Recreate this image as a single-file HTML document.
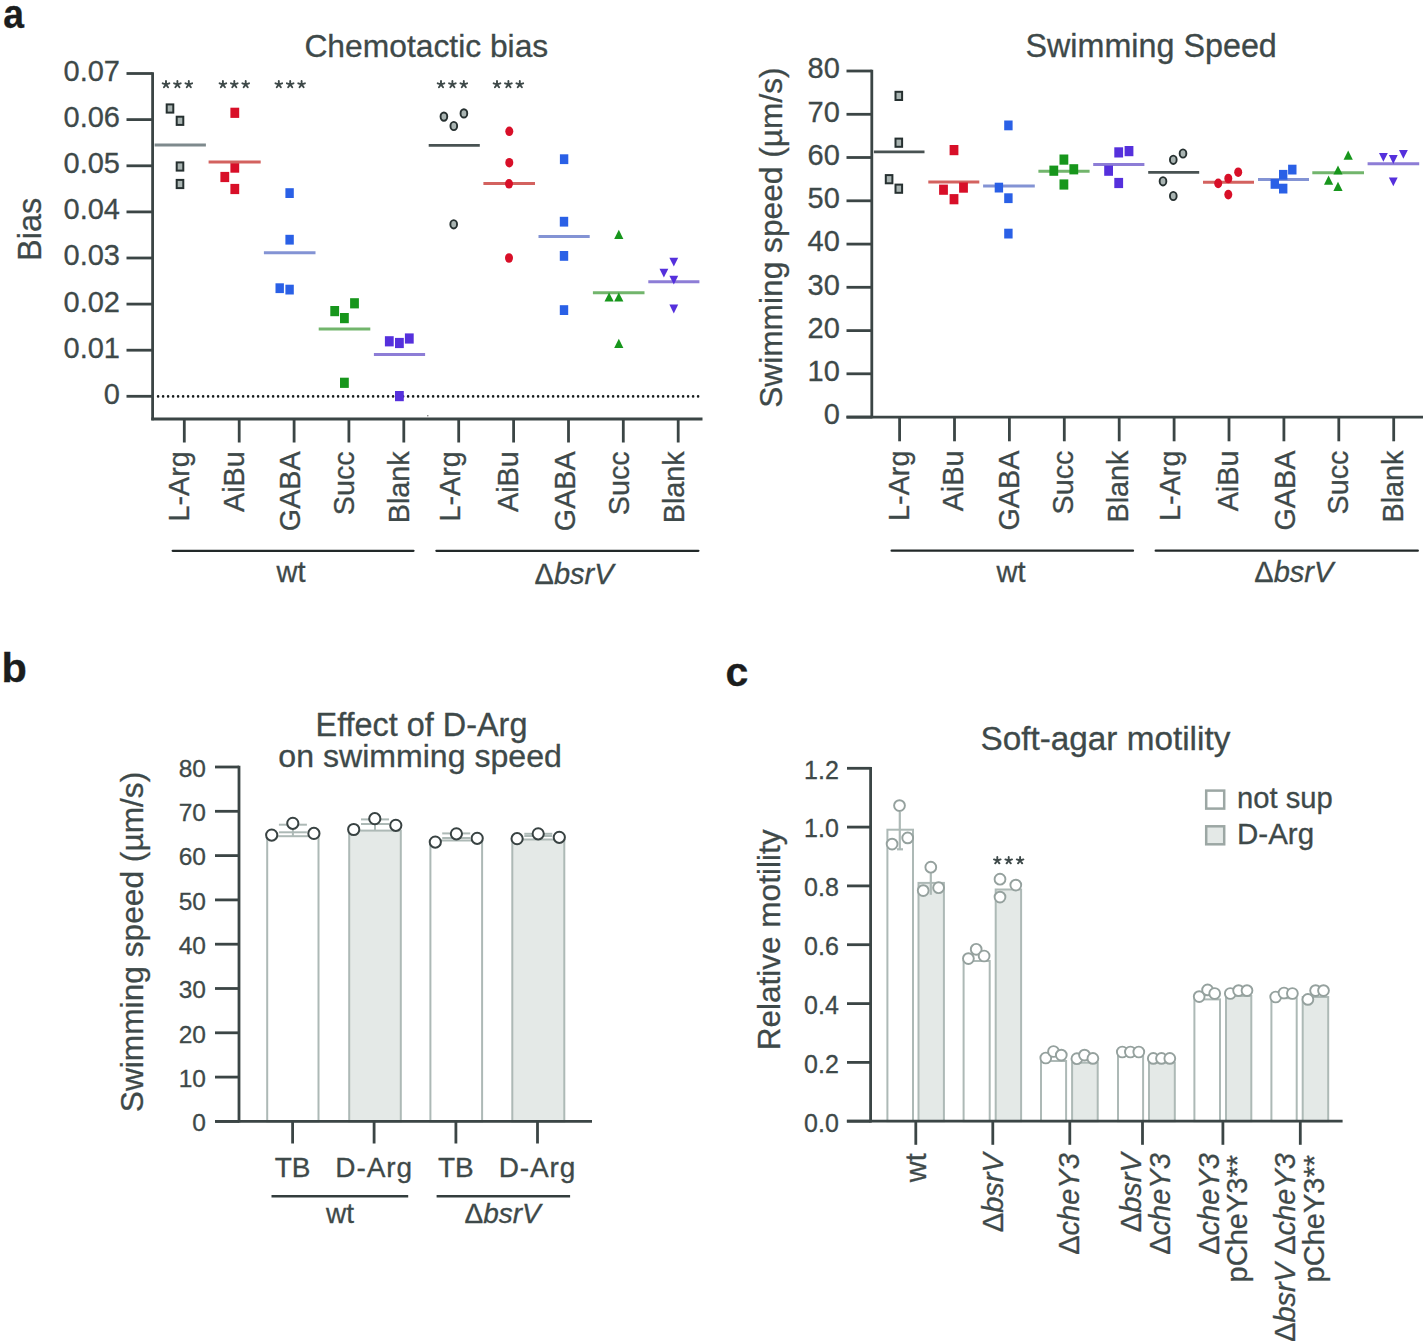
<!DOCTYPE html>
<html><head><meta charset="utf-8"><style>
html,body{margin:0;padding:0;background:#fff;}
svg{display:block;}
text{font-family:"Liberation Sans",sans-serif;stroke:currentColor;stroke-width:0.3px;}
</style></head><body>
<svg width="1423" height="1341" viewBox="0 0 1423 1341">
<rect width="1423" height="1341" fill="#ffffff"/>
<text transform="translate(3.2,28) scale(0.91,1)" font-size="41" font-weight="bold" fill="#1b1d1d" style="color:#1b1d1d">a</text>
<text x="304.4" y="57.0" font-size="31.8" text-anchor="start" fill="#3e4949" style="color:#3e4949" >Chemotactic bias</text>
<line x1="152.6" y1="72.3" x2="152.6" y2="420.3" stroke="#3b4545" stroke-width="2.8" />
<line x1="126.5" y1="396.3" x2="152.6" y2="396.3" stroke="#3b4545" stroke-width="2.8" />
<text x="120.0" y="403.7" font-size="29" text-anchor="end" fill="#3e4949" style="color:#3e4949" >0</text>
<line x1="126.5" y1="350.2" x2="152.6" y2="350.2" stroke="#3b4545" stroke-width="2.8" />
<text x="120.0" y="357.6" font-size="29" text-anchor="end" fill="#3e4949" style="color:#3e4949" >0.01</text>
<line x1="126.5" y1="304.1" x2="152.6" y2="304.1" stroke="#3b4545" stroke-width="2.8" />
<text x="120.0" y="311.5" font-size="29" text-anchor="end" fill="#3e4949" style="color:#3e4949" >0.02</text>
<line x1="126.5" y1="258.0" x2="152.6" y2="258.0" stroke="#3b4545" stroke-width="2.8" />
<text x="120.0" y="265.4" font-size="29" text-anchor="end" fill="#3e4949" style="color:#3e4949" >0.03</text>
<line x1="126.5" y1="211.9" x2="152.6" y2="211.9" stroke="#3b4545" stroke-width="2.8" />
<text x="120.0" y="219.3" font-size="29" text-anchor="end" fill="#3e4949" style="color:#3e4949" >0.04</text>
<line x1="126.5" y1="165.8" x2="152.6" y2="165.8" stroke="#3b4545" stroke-width="2.8" />
<text x="120.0" y="173.2" font-size="29" text-anchor="end" fill="#3e4949" style="color:#3e4949" >0.05</text>
<line x1="126.5" y1="119.6" x2="152.6" y2="119.6" stroke="#3b4545" stroke-width="2.8" />
<text x="120.0" y="127.0" font-size="29" text-anchor="end" fill="#3e4949" style="color:#3e4949" >0.06</text>
<line x1="126.5" y1="73.5" x2="152.6" y2="73.5" stroke="#3b4545" stroke-width="2.8" />
<text x="120.0" y="80.9" font-size="29" text-anchor="end" fill="#3e4949" style="color:#3e4949" >0.07</text>
<line x1="151.3" y1="419.0" x2="702.5" y2="419.0" stroke="#3b4545" stroke-width="2.8" />
<line x1="184.3" y1="419.0" x2="184.3" y2="442.5" stroke="#3b4545" stroke-width="2.8" />
<text transform="translate(189.1,451.3) rotate(-90) scale(0.975,1.03)" font-size="29.5" text-anchor="end" fill="#3e4949" style="color:#3e4949" >L-Arg</text>
<line x1="239.2" y1="419.0" x2="239.2" y2="442.5" stroke="#3b4545" stroke-width="2.8" />
<text transform="translate(244.0,451.3) rotate(-90) scale(0.975,1.03)" font-size="29.5" text-anchor="end" fill="#3e4949" style="color:#3e4949" >AiBu</text>
<line x1="294.1" y1="419.0" x2="294.1" y2="442.5" stroke="#3b4545" stroke-width="2.8" />
<text transform="translate(300.4,451.3) rotate(-90) scale(0.975,1.03)" font-size="29.5" text-anchor="end" fill="#3e4949" style="color:#3e4949" >GABA</text>
<line x1="348.9" y1="419.0" x2="348.9" y2="442.5" stroke="#3b4545" stroke-width="2.8" />
<text transform="translate(354.2,451.3) rotate(-90) scale(0.975,1.03)" font-size="29.5" text-anchor="end" fill="#3e4949" style="color:#3e4949" >Succ</text>
<line x1="403.8" y1="419.0" x2="403.8" y2="442.5" stroke="#3b4545" stroke-width="2.8" />
<text transform="translate(409.1,451.3) rotate(-90) scale(0.975,1.03)" font-size="29.5" text-anchor="end" fill="#3e4949" style="color:#3e4949" >Blank</text>
<line x1="458.7" y1="419.0" x2="458.7" y2="442.5" stroke="#3b4545" stroke-width="2.8" />
<text transform="translate(459.7,451.3) rotate(-90) scale(0.975,1.03)" font-size="29.5" text-anchor="end" fill="#3e4949" style="color:#3e4949" >L-Arg</text>
<line x1="513.6" y1="419.0" x2="513.6" y2="442.5" stroke="#3b4545" stroke-width="2.8" />
<text transform="translate(518.0,451.3) rotate(-90) scale(0.975,1.03)" font-size="29.5" text-anchor="end" fill="#3e4949" style="color:#3e4949" >AiBu</text>
<line x1="568.5" y1="419.0" x2="568.5" y2="442.5" stroke="#3b4545" stroke-width="2.8" />
<text transform="translate(575.1,451.3) rotate(-90) scale(0.975,1.03)" font-size="29.5" text-anchor="end" fill="#3e4949" style="color:#3e4949" >GABA</text>
<line x1="623.3" y1="419.0" x2="623.3" y2="442.5" stroke="#3b4545" stroke-width="2.8" />
<text transform="translate(628.6,451.3) rotate(-90) scale(0.975,1.03)" font-size="29.5" text-anchor="end" fill="#3e4949" style="color:#3e4949" >Succ</text>
<line x1="678.2" y1="419.0" x2="678.2" y2="442.5" stroke="#3b4545" stroke-width="2.8" />
<text transform="translate(683.5,451.3) rotate(-90) scale(0.975,1.03)" font-size="29.5" text-anchor="end" fill="#3e4949" style="color:#3e4949" >Blank</text>
<line x1="158.1" y1="396.4" x2="701" y2="396.4" stroke="#1a1f1f" stroke-width="2.6" stroke-linecap="round" stroke-dasharray="0 5"/>
<line x1="172.7" y1="550.8" x2="413.5" y2="550.8" stroke="#222929" stroke-width="2.3" stroke-linecap="round"/>
<line x1="436.4" y1="550.8" x2="698.4" y2="550.8" stroke="#222929" stroke-width="2.3" stroke-linecap="round"/>
<text x="291.0" y="582.4" font-size="29" text-anchor="middle" fill="#3e4949" style="color:#3e4949" >wt</text>
<text x="534.5" y="583.5" font-size="29" text-anchor="start" fill="#3e4949" style="color:#3e4949" >Δ<tspan font-style="italic">bsrV</tspan></text>
<text transform="translate(41.0,229.3) rotate(-90)" font-size="32.5" text-anchor="middle" fill="#3e4949" style="color:#3e4949" >Bias</text>
<path d="M166.00,84.40L166.00,80.90M166.00,84.40L169.33,83.32M166.00,84.40L162.67,83.32M166.00,84.40L163.94,87.23M166.00,84.40L168.06,87.23M177.40,84.40L177.40,80.90M177.40,84.40L180.73,83.32M177.40,84.40L174.07,83.32M177.40,84.40L175.34,87.23M177.40,84.40L179.46,87.23M188.80,84.40L188.80,80.90M188.80,84.40L192.13,83.32M188.80,84.40L185.47,83.32M188.80,84.40L186.74,87.23M188.80,84.40L190.86,87.23" stroke="#3e4949" stroke-width="1.9" stroke-linecap="round" fill="none"/>
<path d="M222.90,84.40L222.90,80.90M222.90,84.40L226.23,83.32M222.90,84.40L219.57,83.32M222.90,84.40L220.84,87.23M222.90,84.40L224.96,87.23M234.30,84.40L234.30,80.90M234.30,84.40L237.63,83.32M234.30,84.40L230.97,83.32M234.30,84.40L232.24,87.23M234.30,84.40L236.36,87.23M245.70,84.40L245.70,80.90M245.70,84.40L249.03,83.32M245.70,84.40L242.37,83.32M245.70,84.40L243.64,87.23M245.70,84.40L247.76,87.23" stroke="#3e4949" stroke-width="1.9" stroke-linecap="round" fill="none"/>
<path d="M278.80,84.40L278.80,80.90M278.80,84.40L282.13,83.32M278.80,84.40L275.47,83.32M278.80,84.40L276.74,87.23M278.80,84.40L280.86,87.23M290.20,84.40L290.20,80.90M290.20,84.40L293.53,83.32M290.20,84.40L286.87,83.32M290.20,84.40L288.14,87.23M290.20,84.40L292.26,87.23M301.60,84.40L301.60,80.90M301.60,84.40L304.93,83.32M301.60,84.40L298.27,83.32M301.60,84.40L299.54,87.23M301.60,84.40L303.66,87.23" stroke="#3e4949" stroke-width="1.9" stroke-linecap="round" fill="none"/>
<path d="M441.00,84.40L441.00,80.90M441.00,84.40L444.33,83.32M441.00,84.40L437.67,83.32M441.00,84.40L438.94,87.23M441.00,84.40L443.06,87.23M452.40,84.40L452.40,80.90M452.40,84.40L455.73,83.32M452.40,84.40L449.07,83.32M452.40,84.40L450.34,87.23M452.40,84.40L454.46,87.23M463.80,84.40L463.80,80.90M463.80,84.40L467.13,83.32M463.80,84.40L460.47,83.32M463.80,84.40L461.74,87.23M463.80,84.40L465.86,87.23" stroke="#3e4949" stroke-width="1.9" stroke-linecap="round" fill="none"/>
<path d="M497.00,84.40L497.00,80.90M497.00,84.40L500.33,83.32M497.00,84.40L493.67,83.32M497.00,84.40L494.94,87.23M497.00,84.40L499.06,87.23M508.40,84.40L508.40,80.90M508.40,84.40L511.73,83.32M508.40,84.40L505.07,83.32M508.40,84.40L506.34,87.23M508.40,84.40L510.46,87.23M519.80,84.40L519.80,80.90M519.80,84.40L523.13,83.32M519.80,84.40L516.47,83.32M519.80,84.40L517.74,87.23M519.80,84.40L521.86,87.23" stroke="#3e4949" stroke-width="1.9" stroke-linecap="round" fill="none"/>
<rect x="166.7" y="104.4" width="6.6" height="8.2" fill="#a9b4b2" stroke="#263030" stroke-width="2"/>
<rect x="176.7" y="116.7" width="6.6" height="8.2" fill="#a9b4b2" stroke="#263030" stroke-width="2"/>
<rect x="176.7" y="162.4" width="6.6" height="8.2" fill="#a9b4b2" stroke="#263030" stroke-width="2"/>
<rect x="176.7" y="179.9" width="6.6" height="8.2" fill="#a9b4b2" stroke="#263030" stroke-width="2"/>
<line x1="154.6" y1="145.0" x2="205.9" y2="145.0" stroke="#7e8a8d" stroke-width="2.8" />
<rect x="230.4" y="107.7" width="8.8" height="10.2" fill="#d80f28"/>
<rect x="230.4" y="162.5" width="8.8" height="10.2" fill="#d80f28"/>
<rect x="220.4" y="171.9" width="8.8" height="10.2" fill="#d80f28"/>
<rect x="230.4" y="183.9" width="8.8" height="10.2" fill="#d80f28"/>
<line x1="208.6" y1="161.9" x2="260.7" y2="161.9" stroke="#d3625f" stroke-width="3.0" />
<rect x="285.4" y="188.2" width="8.4" height="9.8" fill="#2a60e6"/>
<rect x="285.4" y="234.8" width="8.4" height="9.8" fill="#2a60e6"/>
<rect x="275.5" y="283.3" width="8.4" height="9.8" fill="#2a60e6"/>
<rect x="285.4" y="284.7" width="8.4" height="9.8" fill="#2a60e6"/>
<line x1="263.9" y1="252.7" x2="315.5" y2="252.7" stroke="#8393d4" stroke-width="3.0" />
<rect x="350.1" y="298.2" width="8.8" height="10.2" fill="#17961c"/>
<rect x="330.3" y="306.0" width="8.8" height="10.2" fill="#17961c"/>
<rect x="340.0" y="313.0" width="8.8" height="10.2" fill="#17961c"/>
<rect x="340.0" y="377.7" width="8.8" height="10.2" fill="#17961c"/>
<line x1="318.7" y1="329.1" x2="370.3" y2="329.1" stroke="#72b56c" stroke-width="3.0" />
<rect x="384.9" y="336.2" width="8.8" height="10.2" fill="#5530dc"/>
<rect x="395.0" y="337.9" width="8.8" height="10.2" fill="#5530dc"/>
<rect x="404.9" y="333.4" width="8.8" height="10.2" fill="#5530dc"/>
<rect x="395.0" y="391.0" width="8.8" height="10.2" fill="#5530dc"/>
<line x1="373.9" y1="354.6" x2="425.1" y2="354.6" stroke="#8d7dd6" stroke-width="3.0" />
<line x1="428.7" y1="145.4" x2="479.8" y2="145.4" stroke="#485252" stroke-width="2.8" />
<ellipse cx="443.9" cy="116.6" rx="3.35" ry="4.15" fill="#a9b4b2" stroke="#263030" stroke-width="1.9"/>
<ellipse cx="463.9" cy="113.4" rx="3.35" ry="4.15" fill="#a9b4b2" stroke="#263030" stroke-width="1.9"/>
<ellipse cx="453.8" cy="126.0" rx="3.35" ry="4.15" fill="#a9b4b2" stroke="#263030" stroke-width="1.9"/>
<ellipse cx="453.7" cy="224.3" rx="3.35" ry="4.15" fill="#a9b4b2" stroke="#263030" stroke-width="1.9"/>
<line x1="483.4" y1="183.6" x2="535.0" y2="183.6" stroke="#d3625f" stroke-width="3.0" />
<ellipse cx="509.3" cy="131.3" rx="4.0" ry="4.8" fill="#d80f28"/>
<ellipse cx="509.3" cy="162.7" rx="4.0" ry="4.8" fill="#d80f28"/>
<ellipse cx="509.0" cy="183.8" rx="4.0" ry="4.8" fill="#d80f28"/>
<ellipse cx="509.0" cy="258.0" rx="4.0" ry="4.8" fill="#d80f28"/>
<line x1="538.5" y1="236.5" x2="589.7" y2="236.5" stroke="#8393d4" stroke-width="3.0" />
<rect x="559.9" y="154.3" width="8.4" height="9.8" fill="#2a60e6"/>
<rect x="559.8" y="216.8" width="8.4" height="9.8" fill="#2a60e6"/>
<rect x="559.8" y="251.0" width="8.4" height="9.8" fill="#2a60e6"/>
<rect x="559.8" y="305.2" width="8.4" height="9.8" fill="#2a60e6"/>
<line x1="592.9" y1="292.8" x2="644.5" y2="292.8" stroke="#72b56c" stroke-width="3.0" />
<path d="M614.2,239.0 L623.4,239.0 L618.8,229.8Z" fill="#17961c"/>
<path d="M604.5,301.6 L613.7,301.6 L609.1,292.4Z" fill="#17961c"/>
<path d="M614.2,301.6 L623.4,301.6 L618.8,292.4Z" fill="#17961c"/>
<path d="M614.2,348.0 L623.4,348.0 L618.8,338.8Z" fill="#17961c"/>
<line x1="648.3" y1="281.8" x2="699.4" y2="281.8" stroke="#8d7dd6" stroke-width="3.0" />
<path d="M669.4,257.8 L678.2,257.8 L673.8,266.6Z" fill="#5530dc"/>
<path d="M659.5,268.8 L668.3,268.8 L663.9,277.6Z" fill="#5530dc"/>
<path d="M669.4,275.7 L678.2,275.7 L673.8,284.5Z" fill="#5530dc"/>
<path d="M669.4,304.6 L678.2,304.6 L673.8,313.4Z" fill="#5530dc"/>
<ellipse cx="427.8" cy="415.8" rx="0.8" ry="0.8" fill="#777"/>
<text x="1025.5" y="57.0" font-size="32.3" text-anchor="start" fill="#3e4949" style="color:#3e4949" >Swimming Speed</text>
<line x1="871.8" y1="69.8" x2="871.8" y2="418.3" stroke="#3b4545" stroke-width="2.8" />
<line x1="846.5" y1="417.1" x2="871.8" y2="417.1" stroke="#3b4545" stroke-width="2.8" />
<text x="839.8" y="424.3" font-size="29" text-anchor="end" fill="#3e4949" style="color:#3e4949" >0</text>
<line x1="846.5" y1="373.8" x2="871.8" y2="373.8" stroke="#3b4545" stroke-width="2.8" />
<text x="839.8" y="381.0" font-size="29" text-anchor="end" fill="#3e4949" style="color:#3e4949" >10</text>
<line x1="846.5" y1="330.6" x2="871.8" y2="330.6" stroke="#3b4545" stroke-width="2.8" />
<text x="839.8" y="337.8" font-size="29" text-anchor="end" fill="#3e4949" style="color:#3e4949" >20</text>
<line x1="846.5" y1="287.3" x2="871.8" y2="287.3" stroke="#3b4545" stroke-width="2.8" />
<text x="839.8" y="294.5" font-size="29" text-anchor="end" fill="#3e4949" style="color:#3e4949" >30</text>
<line x1="846.5" y1="244.1" x2="871.8" y2="244.1" stroke="#3b4545" stroke-width="2.8" />
<text x="839.8" y="251.3" font-size="29" text-anchor="end" fill="#3e4949" style="color:#3e4949" >40</text>
<line x1="846.5" y1="200.8" x2="871.8" y2="200.8" stroke="#3b4545" stroke-width="2.8" />
<text x="839.8" y="208.0" font-size="29" text-anchor="end" fill="#3e4949" style="color:#3e4949" >50</text>
<line x1="846.5" y1="157.5" x2="871.8" y2="157.5" stroke="#3b4545" stroke-width="2.8" />
<text x="839.8" y="164.7" font-size="29" text-anchor="end" fill="#3e4949" style="color:#3e4949" >60</text>
<line x1="846.5" y1="114.3" x2="871.8" y2="114.3" stroke="#3b4545" stroke-width="2.8" />
<text x="839.8" y="121.5" font-size="29" text-anchor="end" fill="#3e4949" style="color:#3e4949" >70</text>
<line x1="846.5" y1="71.0" x2="871.8" y2="71.0" stroke="#3b4545" stroke-width="2.8" />
<text x="839.8" y="78.2" font-size="29" text-anchor="end" fill="#3e4949" style="color:#3e4949" >80</text>
<line x1="846.5" y1="417.1" x2="1423.0" y2="417.1" stroke="#3b4545" stroke-width="2.8" />
<line x1="899.6" y1="417.1" x2="899.6" y2="441.3" stroke="#3b4545" stroke-width="2.8" />
<text transform="translate(909.1,450.6) rotate(-90) scale(0.975,1.03)" font-size="29.5" text-anchor="end" fill="#3e4949" style="color:#3e4949" >L-Arg</text>
<line x1="954.5" y1="417.1" x2="954.5" y2="441.3" stroke="#3b4545" stroke-width="2.8" />
<text transform="translate(962.8,450.6) rotate(-90) scale(0.975,1.03)" font-size="29.5" text-anchor="end" fill="#3e4949" style="color:#3e4949" >AiBu</text>
<line x1="1009.4" y1="417.1" x2="1009.4" y2="441.3" stroke="#3b4545" stroke-width="2.8" />
<text transform="translate(1018.7,450.6) rotate(-90) scale(0.975,1.03)" font-size="29.5" text-anchor="end" fill="#3e4949" style="color:#3e4949" >GABA</text>
<line x1="1064.3" y1="417.1" x2="1064.3" y2="441.3" stroke="#3b4545" stroke-width="2.8" />
<text transform="translate(1073.1,450.6) rotate(-90) scale(0.975,1.03)" font-size="29.5" text-anchor="end" fill="#3e4949" style="color:#3e4949" >Succ</text>
<line x1="1119.2" y1="417.1" x2="1119.2" y2="441.3" stroke="#3b4545" stroke-width="2.8" />
<text transform="translate(1127.5,450.6) rotate(-90) scale(0.975,1.03)" font-size="29.5" text-anchor="end" fill="#3e4949" style="color:#3e4949" >Blank</text>
<line x1="1174.1" y1="417.1" x2="1174.1" y2="441.3" stroke="#3b4545" stroke-width="2.8" />
<text transform="translate(1179.9,450.6) rotate(-90) scale(0.975,1.03)" font-size="29.5" text-anchor="end" fill="#3e4949" style="color:#3e4949" >L-Arg</text>
<line x1="1229.0" y1="417.1" x2="1229.0" y2="441.3" stroke="#3b4545" stroke-width="2.8" />
<text transform="translate(1237.8,450.6) rotate(-90) scale(0.975,1.03)" font-size="29.5" text-anchor="end" fill="#3e4949" style="color:#3e4949" >AiBu</text>
<line x1="1283.9" y1="417.1" x2="1283.9" y2="441.3" stroke="#3b4545" stroke-width="2.8" />
<text transform="translate(1294.5,450.6) rotate(-90) scale(0.975,1.03)" font-size="29.5" text-anchor="end" fill="#3e4949" style="color:#3e4949" >GABA</text>
<line x1="1338.8" y1="417.1" x2="1338.8" y2="441.3" stroke="#3b4545" stroke-width="2.8" />
<text transform="translate(1347.9,450.6) rotate(-90) scale(0.975,1.03)" font-size="29.5" text-anchor="end" fill="#3e4949" style="color:#3e4949" >Succ</text>
<line x1="1393.7" y1="417.1" x2="1393.7" y2="441.3" stroke="#3b4545" stroke-width="2.8" />
<text transform="translate(1402.5,450.6) rotate(-90) scale(0.975,1.03)" font-size="29.5" text-anchor="end" fill="#3e4949" style="color:#3e4949" >Blank</text>
<line x1="891.6" y1="550.7" x2="1133.0" y2="550.7" stroke="#222929" stroke-width="2.3" stroke-linecap="round"/>
<line x1="1155.7" y1="550.7" x2="1417.8" y2="550.7" stroke="#222929" stroke-width="2.3" stroke-linecap="round"/>
<text x="1011.0" y="582.4" font-size="29" text-anchor="middle" fill="#3e4949" style="color:#3e4949" >wt</text>
<text x="1254.3" y="582.4" font-size="29" text-anchor="start" fill="#3e4949" style="color:#3e4949" >Δ<tspan font-style="italic">bsrV</tspan></text>
<text transform="translate(782.0,237.6) rotate(-90)" font-size="31.7" text-anchor="middle" fill="#3e4949" style="color:#3e4949" >Swimming speed (µm/s)</text>
<line x1="873.9" y1="151.8" x2="924.5" y2="151.8" stroke="#485252" stroke-width="2.8" />
<rect x="895.5" y="91.8" width="6.6" height="8.2" fill="#a9b4b2" stroke="#263030" stroke-width="2"/>
<rect x="895.5" y="138.6" width="6.6" height="8.2" fill="#a9b4b2" stroke="#263030" stroke-width="2"/>
<rect x="885.8" y="175.1" width="6.6" height="8.2" fill="#a9b4b2" stroke="#263030" stroke-width="2"/>
<rect x="895.5" y="184.6" width="6.6" height="8.2" fill="#a9b4b2" stroke="#263030" stroke-width="2"/>
<line x1="928.3" y1="181.9" x2="979.3" y2="181.9" stroke="#d3625f" stroke-width="3.0" />
<rect x="949.6" y="145.0" width="8.8" height="10.2" fill="#d80f28"/>
<rect x="939.1" y="184.6" width="8.8" height="10.2" fill="#d80f28"/>
<rect x="959.1" y="182.5" width="8.8" height="10.2" fill="#d80f28"/>
<rect x="949.6" y="194.1" width="8.8" height="10.2" fill="#d80f28"/>
<line x1="983.1" y1="186.1" x2="1034.8" y2="186.1" stroke="#8393d4" stroke-width="3.0" />
<rect x="1004.2" y="120.5" width="8.4" height="9.8" fill="#2a60e6"/>
<rect x="994.7" y="182.7" width="8.4" height="9.8" fill="#2a60e6"/>
<rect x="1004.2" y="193.3" width="8.4" height="9.8" fill="#2a60e6"/>
<rect x="1004.2" y="228.7" width="8.4" height="9.8" fill="#2a60e6"/>
<line x1="1038.4" y1="171.2" x2="1089.6" y2="171.2" stroke="#72b56c" stroke-width="3.0" />
<rect x="1059.5" y="154.5" width="8.8" height="10.2" fill="#17961c"/>
<rect x="1049.4" y="165.6" width="8.8" height="10.2" fill="#17961c"/>
<rect x="1069.4" y="164.2" width="8.8" height="10.2" fill="#17961c"/>
<rect x="1059.5" y="179.4" width="8.8" height="10.2" fill="#17961c"/>
<line x1="1093.2" y1="164.4" x2="1144.4" y2="164.4" stroke="#8d7dd6" stroke-width="3.0" />
<rect x="1114.3" y="147.3" width="8.8" height="10.2" fill="#5530dc"/>
<rect x="1124.6" y="146.0" width="8.8" height="10.2" fill="#5530dc"/>
<rect x="1104.2" y="165.6" width="8.8" height="10.2" fill="#5530dc"/>
<rect x="1114.3" y="177.9" width="8.8" height="10.2" fill="#5530dc"/>
<line x1="1148.2" y1="172.4" x2="1199.2" y2="172.4" stroke="#485252" stroke-width="2.8" />
<ellipse cx="1173.3" cy="159.8" rx="3.35" ry="4.15" fill="#a9b4b2" stroke="#263030" stroke-width="1.9"/>
<ellipse cx="1183.0" cy="153.5" rx="3.35" ry="4.15" fill="#a9b4b2" stroke="#263030" stroke-width="1.9"/>
<ellipse cx="1163.0" cy="181.3" rx="3.35" ry="4.15" fill="#a9b4b2" stroke="#263030" stroke-width="1.9"/>
<ellipse cx="1173.3" cy="196.0" rx="3.35" ry="4.15" fill="#a9b4b2" stroke="#263030" stroke-width="1.9"/>
<line x1="1203.0" y1="182.3" x2="1254.0" y2="182.3" stroke="#d3625f" stroke-width="3.0" />
<ellipse cx="1218.2" cy="183.4" rx="4.0" ry="4.8" fill="#d80f28"/>
<ellipse cx="1228.3" cy="178.5" rx="4.0" ry="4.8" fill="#d80f28"/>
<ellipse cx="1238.2" cy="172.2" rx="4.0" ry="4.8" fill="#d80f28"/>
<ellipse cx="1228.3" cy="194.6" rx="4.0" ry="4.8" fill="#d80f28"/>
<line x1="1258.0" y1="179.5" x2="1309.0" y2="179.5" stroke="#8393d4" stroke-width="3.0" />
<rect x="1288.1" y="164.7" width="8.4" height="9.8" fill="#2a60e6"/>
<rect x="1279.0" y="169.9" width="8.4" height="9.8" fill="#2a60e6"/>
<rect x="1270.6" y="179.0" width="8.4" height="9.8" fill="#2a60e6"/>
<rect x="1279.0" y="183.7" width="8.4" height="9.8" fill="#2a60e6"/>
<line x1="1312.3" y1="172.7" x2="1364.0" y2="172.7" stroke="#72b56c" stroke-width="3.0" />
<path d="M1343.6,159.8 L1352.8,159.8 L1348.2,150.6Z" fill="#17961c"/>
<path d="M1333.4,174.6 L1342.6,174.6 L1338.0,165.4Z" fill="#17961c"/>
<path d="M1324.0,184.7 L1333.2,184.7 L1328.6,175.5Z" fill="#17961c"/>
<path d="M1333.4,191.0 L1342.6,191.0 L1338.0,181.8Z" fill="#17961c"/>
<line x1="1367.6" y1="163.7" x2="1419.2" y2="163.7" stroke="#8d7dd6" stroke-width="3.0" />
<path d="M1379.0,152.9 L1387.8,152.9 L1383.4,161.7Z" fill="#5530dc"/>
<path d="M1388.9,155.1 L1397.7,155.1 L1393.3,163.9Z" fill="#5530dc"/>
<path d="M1399.0,150.0 L1407.8,150.0 L1403.4,158.8Z" fill="#5530dc"/>
<path d="M1388.9,177.4 L1397.7,177.4 L1393.3,186.2Z" fill="#5530dc"/>
<text x="1.5" y="681.7" font-size="41.5" text-anchor="start" fill="#1b1d1d" style="color:#1b1d1d" font-weight="bold">b</text>
<text x="421.5" y="735.5" font-size="32.4" text-anchor="middle" fill="#3e4949" style="color:#3e4949" >Effect of D-Arg</text>
<text x="420.1" y="767.1" font-size="32.1" text-anchor="middle" fill="#3e4949" style="color:#3e4949" >on swimming speed</text>
<rect x="267.2" y="836.2" width="51.3" height="285.2" fill="#ffffff" stroke="#adb9b6" stroke-width="2"/>
<rect x="349.2" y="830.6" width="51.6" height="290.8" fill="#e4e9e7" stroke="#adb9b6" stroke-width="2"/>
<rect x="430.4" y="840.5" width="51.7" height="280.9" fill="#ffffff" stroke="#adb9b6" stroke-width="2"/>
<rect x="512.3" y="839.5" width="52.0" height="281.9" fill="#e4e9e7" stroke="#adb9b6" stroke-width="2"/>
<line x1="278.9" y1="824.7" x2="306.9" y2="824.7" stroke="#adb9b6" stroke-width="2" />
<line x1="278.9" y1="832.3" x2="306.9" y2="832.3" stroke="#adb9b6" stroke-width="2" />
<line x1="292.9" y1="824.7" x2="292.9" y2="836.2" stroke="#adb9b6" stroke-width="2" />
<line x1="361.0" y1="819.4" x2="389.0" y2="819.4" stroke="#adb9b6" stroke-width="2" />
<line x1="361.0" y1="824.0" x2="389.0" y2="824.0" stroke="#adb9b6" stroke-width="2" />
<line x1="375.0" y1="819.4" x2="375.0" y2="830.6" stroke="#adb9b6" stroke-width="2" />
<line x1="442.2" y1="833.4" x2="470.2" y2="833.4" stroke="#adb9b6" stroke-width="2" />
<line x1="442.2" y1="838.0" x2="470.2" y2="838.0" stroke="#adb9b6" stroke-width="2" />
<line x1="456.2" y1="833.4" x2="456.2" y2="840.5" stroke="#adb9b6" stroke-width="2" />
<line x1="524.3" y1="833.8" x2="552.3" y2="833.8" stroke="#adb9b6" stroke-width="2" />
<line x1="524.3" y1="836.0" x2="552.3" y2="836.0" stroke="#adb9b6" stroke-width="2" />
<line x1="538.3" y1="833.8" x2="538.3" y2="839.5" stroke="#adb9b6" stroke-width="2" />
<circle cx="271.7" cy="835.1" r="5.6" fill="#ffffff" stroke="#384242" stroke-width="2"/>
<circle cx="292.8" cy="823.3" r="5.6" fill="#ffffff" stroke="#384242" stroke-width="2"/>
<circle cx="313.9" cy="833.4" r="5.6" fill="#ffffff" stroke="#384242" stroke-width="2"/>
<circle cx="353.7" cy="829.5" r="5.6" fill="#ffffff" stroke="#384242" stroke-width="2"/>
<circle cx="374.8" cy="818.7" r="5.6" fill="#ffffff" stroke="#384242" stroke-width="2"/>
<circle cx="395.8" cy="825.3" r="5.6" fill="#ffffff" stroke="#384242" stroke-width="2"/>
<circle cx="435.3" cy="842.1" r="5.6" fill="#ffffff" stroke="#384242" stroke-width="2"/>
<circle cx="456.4" cy="833.8" r="5.6" fill="#ffffff" stroke="#384242" stroke-width="2"/>
<circle cx="477.2" cy="838.3" r="5.6" fill="#ffffff" stroke="#384242" stroke-width="2"/>
<circle cx="517.1" cy="838.7" r="5.6" fill="#ffffff" stroke="#384242" stroke-width="2"/>
<circle cx="538.2" cy="833.8" r="5.6" fill="#ffffff" stroke="#384242" stroke-width="2"/>
<circle cx="559.3" cy="837.3" r="5.6" fill="#ffffff" stroke="#384242" stroke-width="2"/>
<line x1="239.0" y1="765.8" x2="239.0" y2="1122.6" stroke="#3b4545" stroke-width="2.8" />
<line x1="215.0" y1="1121.4" x2="239.0" y2="1121.4" stroke="#3b4545" stroke-width="2.8" />
<text x="206.0" y="1131.1" font-size="24.5" text-anchor="end" fill="#3e4949" style="color:#3e4949" >0</text>
<line x1="215.0" y1="1077.1" x2="239.0" y2="1077.1" stroke="#3b4545" stroke-width="2.8" />
<text x="206.0" y="1086.8" font-size="24.5" text-anchor="end" fill="#3e4949" style="color:#3e4949" >10</text>
<line x1="215.0" y1="1032.8" x2="239.0" y2="1032.8" stroke="#3b4545" stroke-width="2.8" />
<text x="206.0" y="1042.5" font-size="24.5" text-anchor="end" fill="#3e4949" style="color:#3e4949" >20</text>
<line x1="215.0" y1="988.5" x2="239.0" y2="988.5" stroke="#3b4545" stroke-width="2.8" />
<text x="206.0" y="998.2" font-size="24.5" text-anchor="end" fill="#3e4949" style="color:#3e4949" >30</text>
<line x1="215.0" y1="944.2" x2="239.0" y2="944.2" stroke="#3b4545" stroke-width="2.8" />
<text x="206.0" y="953.9" font-size="24.5" text-anchor="end" fill="#3e4949" style="color:#3e4949" >40</text>
<line x1="215.0" y1="899.9" x2="239.0" y2="899.9" stroke="#3b4545" stroke-width="2.8" />
<text x="206.0" y="909.6" font-size="24.5" text-anchor="end" fill="#3e4949" style="color:#3e4949" >50</text>
<line x1="215.0" y1="855.6" x2="239.0" y2="855.6" stroke="#3b4545" stroke-width="2.8" />
<text x="206.0" y="865.3" font-size="24.5" text-anchor="end" fill="#3e4949" style="color:#3e4949" >60</text>
<line x1="215.0" y1="811.3" x2="239.0" y2="811.3" stroke="#3b4545" stroke-width="2.8" />
<text x="206.0" y="821.0" font-size="24.5" text-anchor="end" fill="#3e4949" style="color:#3e4949" >70</text>
<line x1="215.0" y1="767.0" x2="239.0" y2="767.0" stroke="#3b4545" stroke-width="2.8" />
<text x="206.0" y="776.7" font-size="24.5" text-anchor="end" fill="#3e4949" style="color:#3e4949" >80</text>
<line x1="215.2" y1="1121.4" x2="592.0" y2="1121.4" stroke="#3b4545" stroke-width="2.8" />
<line x1="292.6" y1="1121.4" x2="292.6" y2="1143.5" stroke="#3b4545" stroke-width="2.8" />
<text x="292.6" y="1176.9" font-size="28" text-anchor="middle" fill="#3e4949" style="color:#3e4949" >TB</text>
<line x1="374.1" y1="1121.4" x2="374.1" y2="1143.5" stroke="#3b4545" stroke-width="2.8" />
<text x="374.1" y="1176.9" font-size="28" text-anchor="middle" fill="#3e4949" style="color:#3e4949" letter-spacing="0.9">D-Arg</text>
<line x1="455.9" y1="1121.4" x2="455.9" y2="1143.5" stroke="#3b4545" stroke-width="2.8" />
<text x="455.9" y="1176.9" font-size="28" text-anchor="middle" fill="#3e4949" style="color:#3e4949" >TB</text>
<line x1="537.5" y1="1121.4" x2="537.5" y2="1143.5" stroke="#3b4545" stroke-width="2.8" />
<text x="537.5" y="1176.9" font-size="28" text-anchor="middle" fill="#3e4949" style="color:#3e4949" letter-spacing="0.9">D-Arg</text>
<line x1="271.5" y1="1196.2" x2="408.2" y2="1196.2" stroke="#333d3d" stroke-width="2.4" />
<line x1="436.6" y1="1196.2" x2="570.1" y2="1196.2" stroke="#333d3d" stroke-width="2.4" />
<text x="340.0" y="1222.6" font-size="28" text-anchor="middle" fill="#3e4949" style="color:#3e4949" >wt</text>
<text x="464.5" y="1222.6" font-size="28" text-anchor="start" fill="#3e4949" style="color:#3e4949" >Δ<tspan font-style="italic">bsrV</tspan></text>
<text transform="translate(143.0,942.0) rotate(-90)" font-size="31.7" text-anchor="middle" fill="#3e4949" style="color:#3e4949" >Swimming speed (µm/s)</text>
<text x="725.5" y="685.5" font-size="41" text-anchor="start" fill="#1b1d1d" style="color:#1b1d1d" font-weight="bold">c</text>
<text x="980.5" y="750.0" font-size="33.3" text-anchor="start" fill="#3e4949" style="color:#3e4949" >Soft-agar motility</text>
<rect x="887.4" y="829.7" width="25.6" height="291.5" fill="#ffffff" stroke="#adb9b6" stroke-width="2"/>
<rect x="918.5" y="882.9" width="25.4" height="238.3" fill="#e4e9e7" stroke="#adb9b6" stroke-width="2"/>
<rect x="963.6" y="961.0" width="26.1" height="160.2" fill="#ffffff" stroke="#adb9b6" stroke-width="2"/>
<rect x="995.7" y="889.5" width="25.4" height="231.7" fill="#e4e9e7" stroke="#adb9b6" stroke-width="2"/>
<rect x="1041.0" y="1061.0" width="25.1" height="60.2" fill="#ffffff" stroke="#adb9b6" stroke-width="2"/>
<rect x="1072.1" y="1062.7" width="25.6" height="58.5" fill="#e4e9e7" stroke="#adb9b6" stroke-width="2"/>
<rect x="1118.0" y="1056.0" width="25.1" height="65.2" fill="#ffffff" stroke="#adb9b6" stroke-width="2"/>
<rect x="1149.0" y="1062.7" width="25.8" height="58.5" fill="#e4e9e7" stroke="#adb9b6" stroke-width="2"/>
<rect x="1194.4" y="999.4" width="25.6" height="121.8" fill="#ffffff" stroke="#adb9b6" stroke-width="2"/>
<rect x="1226.0" y="996.0" width="25.3" height="125.2" fill="#e4e9e7" stroke="#adb9b6" stroke-width="2"/>
<rect x="1271.4" y="998.2" width="25.3" height="123.0" fill="#ffffff" stroke="#adb9b6" stroke-width="2"/>
<rect x="1302.7" y="997.0" width="25.5" height="124.2" fill="#e4e9e7" stroke="#adb9b6" stroke-width="2"/>
<line x1="899.8" y1="812.0" x2="899.8" y2="849.3" stroke="#adb9b6" stroke-width="2.2" />
<line x1="897.0" y1="849.3" x2="903.0" y2="849.3" stroke="#adb9b6" stroke-width="2.2" />
<line x1="930.8" y1="867.0" x2="930.8" y2="894.8" stroke="#adb9b6" stroke-width="2.2" />
<circle cx="899.5" cy="805.6" r="5.4" fill="#ffffff" stroke="#95a19e" stroke-width="1.9"/>
<circle cx="892.1" cy="844.1" r="5.4" fill="#ffffff" stroke="#95a19e" stroke-width="1.9"/>
<circle cx="907.7" cy="837.9" r="5.4" fill="#ffffff" stroke="#95a19e" stroke-width="1.9"/>
<circle cx="930.8" cy="867.2" r="5.4" fill="#ffffff" stroke="#95a19e" stroke-width="1.9"/>
<circle cx="923.2" cy="890.6" r="5.4" fill="#ffffff" stroke="#95a19e" stroke-width="1.9"/>
<circle cx="938.6" cy="887.7" r="5.4" fill="#ffffff" stroke="#95a19e" stroke-width="1.9"/>
<circle cx="968.4" cy="958.6" r="5.4" fill="#ffffff" stroke="#95a19e" stroke-width="1.9"/>
<circle cx="976.2" cy="949.3" r="5.4" fill="#ffffff" stroke="#95a19e" stroke-width="1.9"/>
<circle cx="984.1" cy="956.0" r="5.4" fill="#ffffff" stroke="#95a19e" stroke-width="1.9"/>
<circle cx="1000.0" cy="879.2" r="5.4" fill="#ffffff" stroke="#95a19e" stroke-width="1.9"/>
<circle cx="1015.8" cy="885.1" r="5.4" fill="#ffffff" stroke="#95a19e" stroke-width="1.9"/>
<circle cx="1000.0" cy="897.1" r="5.4" fill="#ffffff" stroke="#95a19e" stroke-width="1.9"/>
<circle cx="1045.8" cy="1058.0" r="5.4" fill="#ffffff" stroke="#95a19e" stroke-width="1.9"/>
<circle cx="1053.5" cy="1051.5" r="5.4" fill="#ffffff" stroke="#95a19e" stroke-width="1.9"/>
<circle cx="1061.3" cy="1055.1" r="5.4" fill="#ffffff" stroke="#95a19e" stroke-width="1.9"/>
<circle cx="1076.9" cy="1058.7" r="5.4" fill="#ffffff" stroke="#95a19e" stroke-width="1.9"/>
<circle cx="1084.5" cy="1055.1" r="5.4" fill="#ffffff" stroke="#95a19e" stroke-width="1.9"/>
<circle cx="1092.9" cy="1058.4" r="5.4" fill="#ffffff" stroke="#95a19e" stroke-width="1.9"/>
<circle cx="1122.3" cy="1052.0" r="5.4" fill="#ffffff" stroke="#95a19e" stroke-width="1.9"/>
<circle cx="1130.4" cy="1052.0" r="5.4" fill="#ffffff" stroke="#95a19e" stroke-width="1.9"/>
<circle cx="1138.8" cy="1052.0" r="5.4" fill="#ffffff" stroke="#95a19e" stroke-width="1.9"/>
<circle cx="1153.3" cy="1058.4" r="5.4" fill="#ffffff" stroke="#95a19e" stroke-width="1.9"/>
<circle cx="1161.5" cy="1058.4" r="5.4" fill="#ffffff" stroke="#95a19e" stroke-width="1.9"/>
<circle cx="1169.8" cy="1058.4" r="5.4" fill="#ffffff" stroke="#95a19e" stroke-width="1.9"/>
<circle cx="1199.2" cy="996.6" r="5.4" fill="#ffffff" stroke="#95a19e" stroke-width="1.9"/>
<circle cx="1207.6" cy="989.9" r="5.4" fill="#ffffff" stroke="#95a19e" stroke-width="1.9"/>
<circle cx="1214.7" cy="993.5" r="5.4" fill="#ffffff" stroke="#95a19e" stroke-width="1.9"/>
<circle cx="1230.3" cy="993.5" r="5.4" fill="#ffffff" stroke="#95a19e" stroke-width="1.9"/>
<circle cx="1238.6" cy="990.6" r="5.4" fill="#ffffff" stroke="#95a19e" stroke-width="1.9"/>
<circle cx="1247.0" cy="990.6" r="5.4" fill="#ffffff" stroke="#95a19e" stroke-width="1.9"/>
<circle cx="1275.7" cy="997.0" r="5.4" fill="#ffffff" stroke="#95a19e" stroke-width="1.9"/>
<circle cx="1284.0" cy="993.0" r="5.4" fill="#ffffff" stroke="#95a19e" stroke-width="1.9"/>
<circle cx="1292.4" cy="993.5" r="5.4" fill="#ffffff" stroke="#95a19e" stroke-width="1.9"/>
<circle cx="1307.9" cy="999.4" r="5.4" fill="#ffffff" stroke="#95a19e" stroke-width="1.9"/>
<circle cx="1315.6" cy="990.6" r="5.4" fill="#ffffff" stroke="#95a19e" stroke-width="1.9"/>
<circle cx="1323.5" cy="990.6" r="5.4" fill="#ffffff" stroke="#95a19e" stroke-width="1.9"/>
<line x1="870.6" y1="767.0" x2="870.6" y2="1122.4" stroke="#3b4545" stroke-width="2.8" />
<line x1="847.0" y1="1121.2" x2="870.6" y2="1121.2" stroke="#3b4545" stroke-width="2.8" />
<text x="838.8" y="1131.5" font-size="25" text-anchor="end" fill="#3e4949" style="color:#3e4949" >0.0</text>
<line x1="847.0" y1="1062.4" x2="870.6" y2="1062.4" stroke="#3b4545" stroke-width="2.8" />
<text x="838.8" y="1072.7" font-size="25" text-anchor="end" fill="#3e4949" style="color:#3e4949" >0.2</text>
<line x1="847.0" y1="1003.6" x2="870.6" y2="1003.6" stroke="#3b4545" stroke-width="2.8" />
<text x="838.8" y="1013.9" font-size="25" text-anchor="end" fill="#3e4949" style="color:#3e4949" >0.4</text>
<line x1="847.0" y1="944.7" x2="870.6" y2="944.7" stroke="#3b4545" stroke-width="2.8" />
<text x="838.8" y="955.0" font-size="25" text-anchor="end" fill="#3e4949" style="color:#3e4949" >0.6</text>
<line x1="847.0" y1="885.9" x2="870.6" y2="885.9" stroke="#3b4545" stroke-width="2.8" />
<text x="838.8" y="896.2" font-size="25" text-anchor="end" fill="#3e4949" style="color:#3e4949" >0.8</text>
<line x1="847.0" y1="827.1" x2="870.6" y2="827.1" stroke="#3b4545" stroke-width="2.8" />
<text x="838.8" y="837.4" font-size="25" text-anchor="end" fill="#3e4949" style="color:#3e4949" >1.0</text>
<line x1="847.0" y1="768.3" x2="870.6" y2="768.3" stroke="#3b4545" stroke-width="2.8" />
<text x="838.8" y="778.6" font-size="25" text-anchor="end" fill="#3e4949" style="color:#3e4949" >1.2</text>
<line x1="846.8" y1="1121.2" x2="1342.6" y2="1121.2" stroke="#3b4545" stroke-width="2.8" />
<line x1="915.8" y1="1121.2" x2="915.8" y2="1144.8" stroke="#3b4545" stroke-width="2.8" />
<line x1="992.8" y1="1121.2" x2="992.8" y2="1144.8" stroke="#3b4545" stroke-width="2.8" />
<line x1="1069.8" y1="1121.2" x2="1069.8" y2="1144.8" stroke="#3b4545" stroke-width="2.8" />
<line x1="1142.5" y1="1121.2" x2="1142.5" y2="1144.8" stroke="#3b4545" stroke-width="2.8" />
<line x1="1222.9" y1="1121.2" x2="1222.9" y2="1144.8" stroke="#3b4545" stroke-width="2.8" />
<line x1="1300.3" y1="1121.2" x2="1300.3" y2="1144.8" stroke="#3b4545" stroke-width="2.8" />
<path d="M997.30,860.50L997.30,857.00M997.30,860.50L1000.63,859.42M997.30,860.50L993.97,859.42M997.30,860.50L995.24,863.33M997.30,860.50L999.36,863.33M1008.70,860.50L1008.70,857.00M1008.70,860.50L1012.03,859.42M1008.70,860.50L1005.37,859.42M1008.70,860.50L1006.64,863.33M1008.70,860.50L1010.76,863.33M1020.10,860.50L1020.10,857.00M1020.10,860.50L1023.43,859.42M1020.10,860.50L1016.77,859.42M1020.10,860.50L1018.04,863.33M1020.10,860.50L1022.16,863.33" stroke="#3e4949" stroke-width="1.9" stroke-linecap="round" fill="none"/>
<rect x="1206.2" y="790.6" width="18" height="18" fill="#ffffff" stroke="#9ca7a4" stroke-width="2.5"/>
<rect x="1206.2" y="826.3" width="18" height="18" fill="#e4e9e7" stroke="#9ca7a4" stroke-width="2.5"/>
<text x="1237.0" y="808.2" font-size="29.2" text-anchor="start" fill="#3e4949" style="color:#3e4949" >not sup</text>
<text x="1237.0" y="844.2" font-size="29.5" text-anchor="start" fill="#3e4949" style="color:#3e4949" >D-Arg</text>
<text transform="translate(779.5,939.9) rotate(-90)" font-size="31.5" text-anchor="middle" fill="#3e4949" style="color:#3e4949" >Relative motility</text>
<text transform="translate(926.0,1153.2) rotate(-90)" font-size="29" text-anchor="end" fill="#3e4949" style="color:#3e4949" >wt</text>
<text transform="translate(1003.3,1153.2) rotate(-90)" font-size="29" text-anchor="end" fill="#3e4949" style="color:#3e4949" >Δ<tspan font-style="italic">bsrV</tspan></text>
<text transform="translate(1079.2,1153.2) rotate(-90)" font-size="29" text-anchor="end" fill="#3e4949" style="color:#3e4949" >Δ<tspan font-style="italic">cheY3</tspan></text>
<text transform="translate(1141.1,1153.2) rotate(-90)" font-size="29" text-anchor="end" fill="#3e4949" style="color:#3e4949" >Δ<tspan font-style="italic">bsrV</tspan></text>
<text transform="translate(1169.6,1153.2) rotate(-90)" font-size="29" text-anchor="end" fill="#3e4949" style="color:#3e4949" >Δ<tspan font-style="italic">cheY3</tspan></text>
<text transform="translate(1219.1,1153.2) rotate(-90)" font-size="29" text-anchor="end" fill="#3e4949" style="color:#3e4949" >Δ<tspan font-style="italic">cheY3</tspan></text>
<text transform="translate(1246.5,1155.0) rotate(-90)" font-size="29" text-anchor="end" fill="#3e4949" style="color:#3e4949" >pCheY3**</text>
<text transform="translate(1295.0,1153.2) rotate(-90)" font-size="29" text-anchor="end" fill="#3e4949" style="color:#3e4949" >Δ<tspan font-style="italic">bsrV</tspan> Δ<tspan font-style="italic">cheY3</tspan></text>
<text transform="translate(1324.0,1155.0) rotate(-90)" font-size="29" text-anchor="end" fill="#3e4949" style="color:#3e4949" >pCheY3**</text>
</svg>
</body></html>
